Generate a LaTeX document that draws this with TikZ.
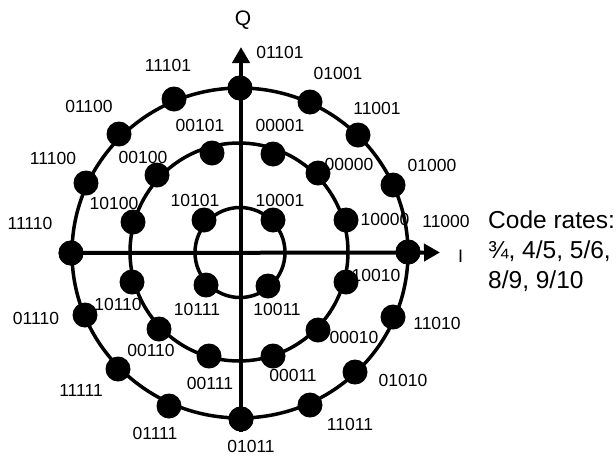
\documentclass[tikz,border=0pt]{standalone}
\usepackage{fontspec}
\setmainfont{Liberation Sans}
\usetikzlibrary{arrows.meta}
\begin{document}
\begin{tikzpicture}[x=1pt,y=-1pt,
  dot/.style={circle,fill=black,draw=none,minimum size=25pt,inner sep=0pt},
  lab/.style={inner sep=0pt,font=\fontsize{17.5}{20}\selectfont},
  axislab/.style={inner sep=0pt},
  rate/.style={inner sep=0pt,anchor=base west,font=\fontsize{24.5}{30}\selectfont},
  ring/.style={line width=3.5pt},
  axis/.style={line width=4pt,-{Triangle[length=16pt,width=17pt]}}]
\useasboundingbox (0,0) rectangle (616,456);
% rings
\draw[ring] (240,253) ellipse [x radius=168pt, y radius=165pt];
\draw[ring] (239,252) circle [radius=109pt];
\draw[ring] (240,252.5) circle [radius=45pt];
% outer dots
\foreach \n/\x/\y in {01101/240/88, 11101/174/99, 01100/119/134, 11100/86/183,
  11110/71/253, 01110/85/315, 11111/118/369, 01111/169/406, 01011/241/419,
  11011/310/405, 01010/355/372, 11010/393/317, 11000/408/252, 01000/393/185,
  11001/358/135, 01001/310/102}
  \node[dot] (d\n) at (\x,\y) {};
% middle dots
\foreach \n/\x/\y in {00101/212/153, 00001/273/154, 00100/157/175, 10100/133/222,
  10110/132/282, 00110/159/329, 00111/209/356, 00011/273/356,
  00010/318/330, 10010/346/282, 10000/346/220, 00000/318/173}
  \node[dot] (d\n) at (\x,\y) {};
% inner dots
\foreach \n/\x/\y in {10101/204/220, 10001/273/220, 10111/206/285, 10011/268/286}
  \node[dot] (d\n) at (\x,\y) {};
% axes
\coordinate (itip) at (440,252.5);
\coordinate (qtip) at (241,47);
\draw[axis] (d11110.center) -- (itip);
\draw[axis] (d01011.south) -- (qtip);
\node[dot] at (d11110) {};
\node[dot] at (d11000) {};
\node[dot] at (d01101) {};
\node[dot] at (d01011) {};
% axis labels
\node[axislab,font=\fontsize{21}{24}\selectfont] (Q) at (243,20) {Q};
\node[axislab,anchor=base,font=\fontsize{18}{20}\selectfont] (I) at (460.5,262) {I};
% labels
\foreach \t/\x/\y in {01101/280/52, 11101/168/65, 01100/89/106, 11100/53/158,
  11110/30/223, 01110/36/318, 11111/81/390, 01111/155/433, 01011/251/446,
  11011/350/424, 01010/403/380, 11010/437/323, 11000/446/221, 01000/432/165,
  11001/377/108, 01001/338/73,
  00001/280/125, 00101/200/125, 00100/143/157, 10100/114/203,
  10110/118/304, 00110/151/350, 00111/210/383, 00011/293/375,
  00010/354/337, 10010/376/275, 10000/385/219, 00000/349/164,
  10001/280/200, 10101/195/200, 10111/197/309, 10011/277/309}
  \node[lab] (l\t) at (\x,\y) {\t};
% code rates
\node[rate] (rate1) at (488,228) {Code rates:};
\node[rate] (rate2) at (488,258) {¾, 4/5, 5/6,};
\node[rate] (rate3) at (488,288) {8/9, 9/10};
\end{tikzpicture}
\end{document}
